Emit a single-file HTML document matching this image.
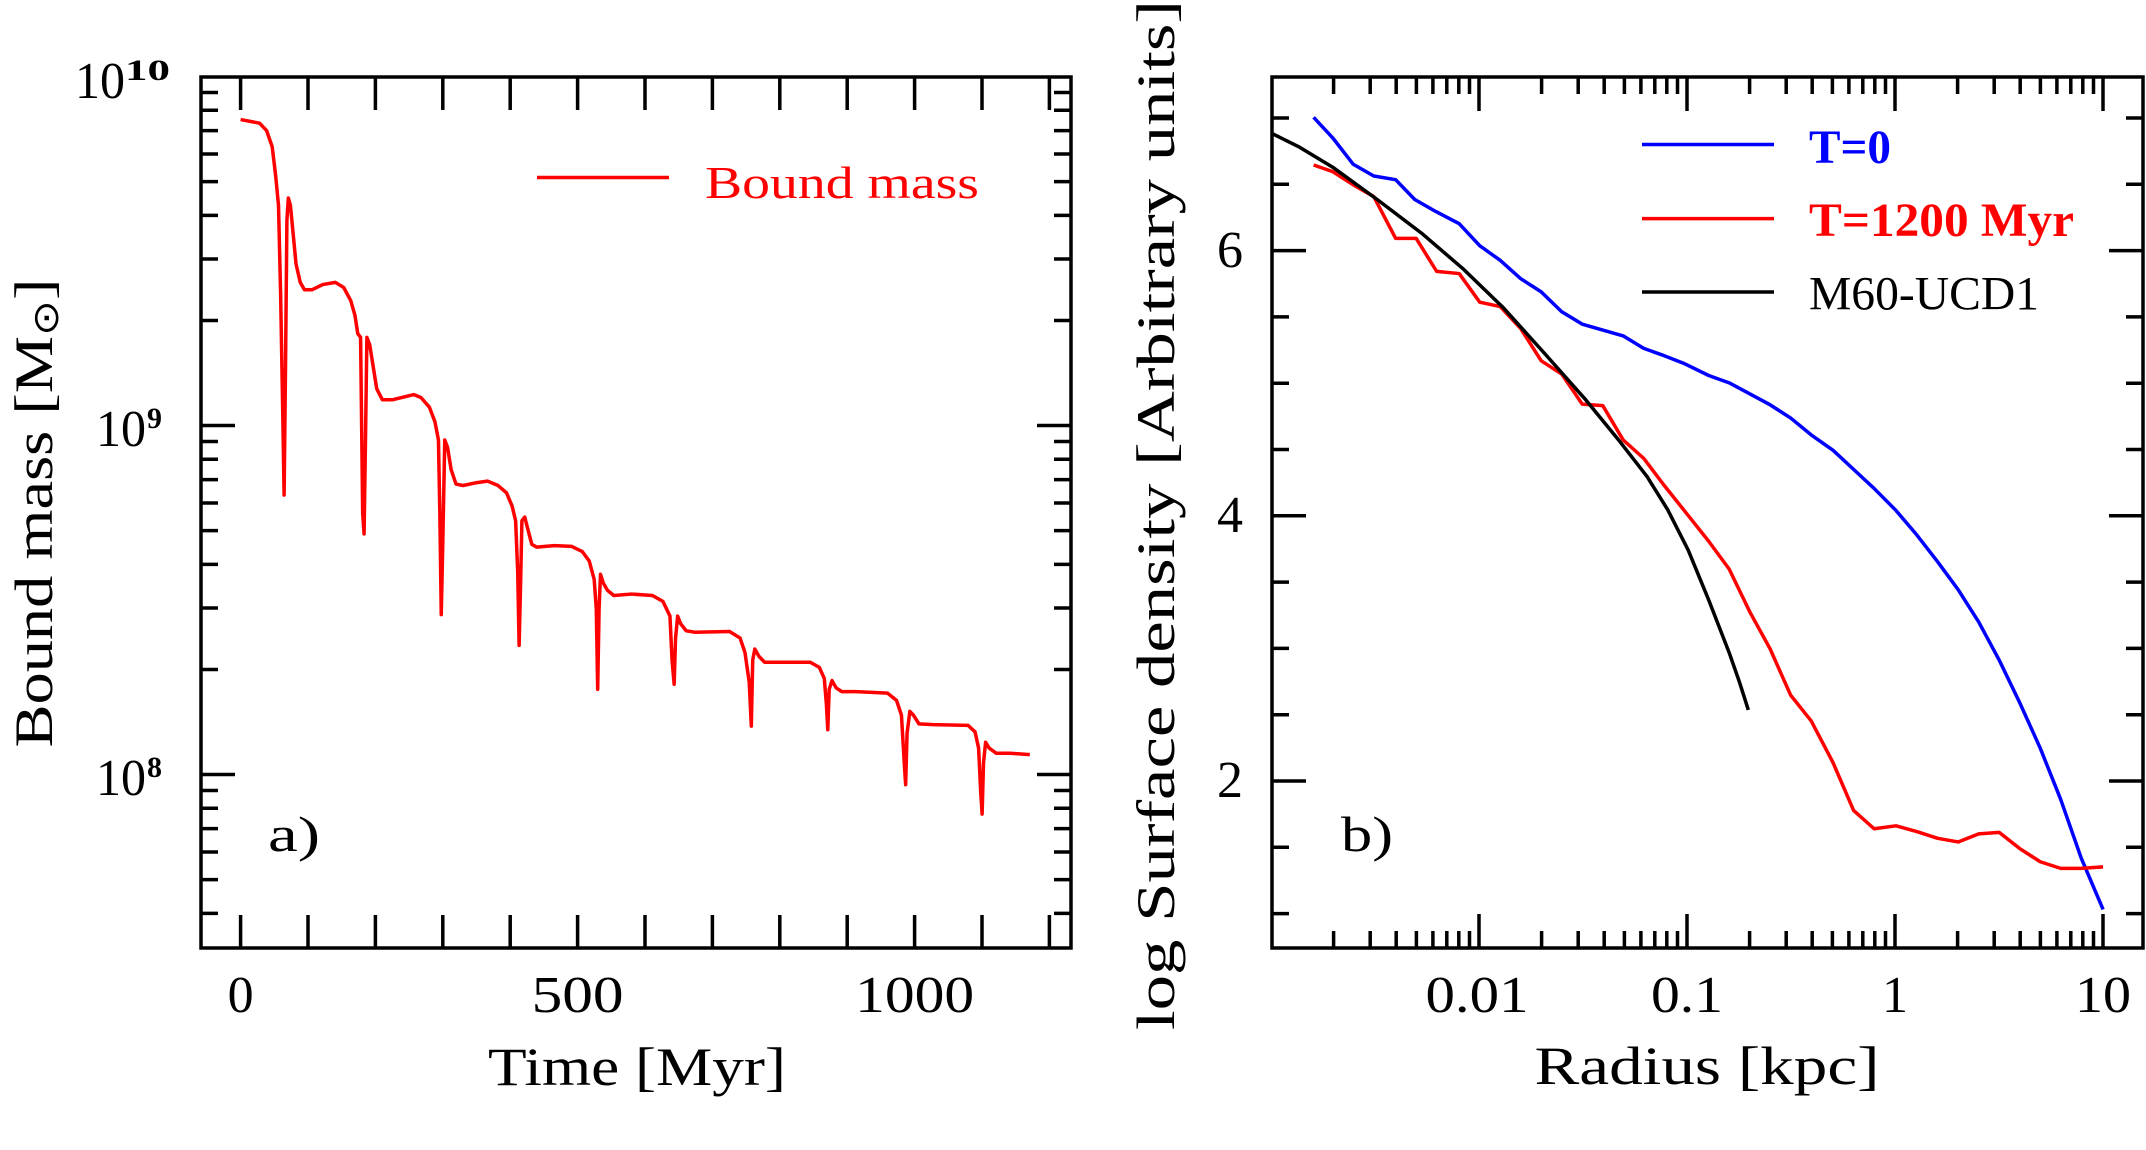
<!DOCTYPE html>
<html><head><meta charset="utf-8"><style>
html,body{margin:0;padding:0;background:#fff;}
svg{display:block;}
text{font-family:"Liberation Serif",serif;fill:#000;}
</style></head><body>
<svg width="2146" height="1150" viewBox="0 0 2146 1150" xmlns="http://www.w3.org/2000/svg">
<!-- LEFT PANEL -->
<rect x="201" y="77" width="870" height="871" fill="none" stroke="#000" stroke-width="3.5"/>
<g stroke="#000" stroke-width="3.5" fill="none">
<path d="M240.6,948v-33M308,948v-33M375.4,948v-33M442.8,948v-33M510.2,948v-33M577.6,948v-33M645,948v-33M712.4,948v-33M779.8,948v-33M847.2,948v-33M914.6,948v-33M982,948v-33M1049.4,948v-33
M240.6,77v33M308,77v33M375.4,77v33M442.8,77v33M510.2,77v33M577.6,77v33M645,77v33M712.4,77v33M779.8,77v33M847.2,77v33M914.6,77v33M982,77v33M1049.4,77v33"/>
<path d="M201,913.4h17M201,879.6h17M201,852h17M201,828.6h17M201,808.3h17M201,790.5h17M201,774.5h34M201,669.5h17M201,608h17M201,564.4h17M201,530.6h17M201,503h17M201,479.6h17M201,459.3h17M201,441.5h17M201,425.5h34M201,320.5h17M201,259h17M201,215.4h17M201,181.6h17M201,154h17M201,130.6h17M201,110.3h17M201,92.5h17
M1071,913.4h-17M1071,879.6h-17M1071,852h-17M1071,828.6h-17M1071,808.3h-17M1071,790.5h-17M1071,774.5h-34M1071,669.5h-17M1071,608h-17M1071,564.4h-17M1071,530.6h-17M1071,503h-17M1071,479.6h-17M1071,459.3h-17M1071,441.5h-17M1071,425.5h-34M1071,320.5h-17M1071,259h-17M1071,215.4h-17M1071,181.6h-17M1071,154h-17M1071,130.6h-17M1071,110.3h-17M1071,92.5h-17"/>
</g>
<g transform="scale(0.70151,0.73341)">
<polyline fill="none" stroke="#f00" stroke-width="3.5" vector-effect="non-scaling-stroke" stroke-linejoin="round" points="343,163 370,168 380,178 388,200 393,240 397,280 400,400 403,560 405,675 407,500 409,300 411,270 414,280 418,320 422,360 428,385 434,395 445,395 460,388 478,385 490,392 500,410 506,430 510,455 514,460 517,700 519,728 521,600 523,460 527,470 532,500 537,530 545,545 560,545 590,538 600,542 612,555 620,575 625,600 627,700 629,838 631,750 634,600 638,610 643,640 650,660 660,662 680,658 695,656 710,662 722,672 730,690 735,710 738,780 740,880 742,800 744,710 748,705 752,720 758,742 765,746 790,744 815,745 830,752 840,765 847,790 850,830 852,940 854,830 856,783 860,795 866,805 875,812 900,810 930,812 945,820 955,840 958,900 961,933 963,870 966,840 970,850 978,860 990,862 1040,861 1055,870 1062,890 1068,930 1071,990 1073,900 1076,885 1082,895 1090,903 1110,903 1155,903 1168,910 1175,925 1178,960 1180,995 1182,940 1186,928 1192,938 1200,943 1220,943 1265,945 1278,955 1285,975 1289,1040 1291,1070 1293,1000 1297,970 1302,975 1310,987 1330,988 1380,989 1390,998 1395,1020 1398,1080 1400,1110 1402,1040 1405,1012 1410,1020 1420,1027 1440,1027 1468,1029"/>
</g>
<line x1="537" y1="177.5" x2="669" y2="177.5" stroke="#f00" stroke-width="3.5"/>
<text x="705" y="198" font-size="46" style="fill:#f00" textLength="274" lengthAdjust="spacingAndGlyphs">Bound mass</text>
<text x="268" y="851" font-size="50" textLength="52" lengthAdjust="spacingAndGlyphs">a)</text>
<!-- y tick labels -->
<text x="75" y="98" font-size="52" textLength="50" lengthAdjust="spacingAndGlyphs">10</text>
<text x="125" y="80" font-size="30" font-weight="bold" textLength="45" lengthAdjust="spacingAndGlyphs">10</text>
<text x="96" y="446" font-size="52" textLength="50" lengthAdjust="spacingAndGlyphs">10</text>
<text x="147" y="428" font-size="30" font-weight="bold">9</text>
<text x="96" y="795" font-size="52" textLength="50" lengthAdjust="spacingAndGlyphs">10</text>
<text x="147" y="777" font-size="30" font-weight="bold">8</text>
<!-- x tick labels -->
<text x="240.6" y="1012" font-size="52" text-anchor="middle">0</text>
<text x="577.6" y="1012" font-size="52" text-anchor="middle" textLength="92" lengthAdjust="spacingAndGlyphs">500</text>
<text x="914.6" y="1012" font-size="52" text-anchor="middle" textLength="119" lengthAdjust="spacingAndGlyphs">1000</text>
<text x="637" y="1085" font-size="54" text-anchor="middle" textLength="298" lengthAdjust="spacingAndGlyphs">Time [Myr]</text>
<text transform="translate(52,513) rotate(-90)" font-size="54" text-anchor="middle" textLength="469" lengthAdjust="spacingAndGlyphs">Bound mass [M<tspan font-size="36" dy="6">⊙</tspan><tspan dy="-6">]</tspan></text>

<!-- RIGHT PANEL -->
<rect x="1272" y="77" width="871" height="871" fill="none" stroke="#000" stroke-width="3.5"/>
<g stroke="#000" stroke-width="3.5" fill="none">
<path d="M1333.6,948v-17M1370.2,948v-17M1396.2,948v-17M1416.4,948v-17M1432.9,948v-17M1446.8,948v-17M1458.8,948v-17M1469.5,948v-17M1479,948v-34
M1541.6,948v-17M1578.2,948v-17M1604.2,948v-17M1624.4,948v-17M1640.9,948v-17M1654.8,948v-17M1666.8,948v-17M1677.5,948v-17M1687,948v-34
M1749.6,948v-17M1786.2,948v-17M1812.2,948v-17M1832.4,948v-17M1848.9,948v-17M1862.8,948v-17M1874.8,948v-17M1885.5,948v-17M1895,948v-34
M1957.6,948v-17M1994.2,948v-17M2020.2,948v-17M2040.4,948v-17M2056.9,948v-17M2070.8,948v-17M2082.8,948v-17M2093.5,948v-17M2103,948v-34
M1333.6,77v17M1370.2,77v17M1396.2,77v17M1416.4,77v17M1432.9,77v17M1446.8,77v17M1458.8,77v17M1469.5,77v17M1479,77v34
M1541.6,77v17M1578.2,77v17M1604.2,77v17M1624.4,77v17M1640.9,77v17M1654.8,77v17M1666.8,77v17M1677.5,77v17M1687,77v34
M1749.6,77v17M1786.2,77v17M1812.2,77v17M1832.4,77v17M1848.9,77v17M1862.8,77v17M1874.8,77v17M1885.5,77v17M1895,77v34
M1957.6,77v17M1994.2,77v17M2020.2,77v17M2040.4,77v17M2056.9,77v17M2070.8,77v17M2082.8,77v17M2093.5,77v17M2103,77v34"/>
<path d="M1272,913.6h17M1272,847.3h17M1272,781h34M1272,714.7h17M1272,648.4h17M1272,582.1h17M1272,515.8h34M1272,449.5h17M1272,383.2h17M1272,316.9h17M1272,250.6h34M1272,184.3h17M1272,118h17
M2143,913.6h-17M2143,847.3h-17M2143,781h-34M2143,714.7h-17M2143,648.4h-17M2143,582.1h-17M2143,515.8h-34M2143,449.5h-17M2143,383.2h-17M2143,316.9h-17M2143,250.6h-34M2143,184.3h-17M2143,118h-17"/>
</g>
<g transform="translate(1073,0) scale(0.68353,0.73341)" fill="none" stroke-width="3.5" stroke-linejoin="round">
<polyline vector-effect="non-scaling-stroke" stroke="#00f" points="352,160 380,188 410,224 440,240 472,245 500,272 530,288 565,305 595,335 625,355 655,380 685,398 715,425 745,442 775,450 805,458 835,475 865,485 895,496 930,512 960,522 990,537 1020,552 1050,570 1080,593 1112,614 1142,640 1172,666 1204,696 1235,730 1265,766 1295,804 1325,848 1355,900 1385,958 1415,1020 1445,1090 1475,1170 1507,1240"/>
<polyline vector-effect="non-scaling-stroke" stroke="#f00" points="352,225 380,234 410,252 440,268 472,325 502,325 532,370 565,373 595,412 625,418 655,448 685,492 715,510 745,551 775,553 805,600 835,625 865,662 895,697 930,738 960,776 990,834 1020,885 1050,948 1080,983 1112,1040 1142,1105 1172,1130 1204,1126 1235,1134 1265,1143 1295,1148 1325,1137 1355,1135 1385,1157 1415,1175 1445,1184 1475,1184 1507,1182"/>
<polyline vector-effect="non-scaling-stroke" stroke="#000" points="291,182 330,200 380,228 445,272 510,318 570,366 630,420 690,482 750,545 800,602 840,650 870,695 900,750 930,818 960,890 975,930 988,968"/>
</g>
<line x1="1642" y1="144.5" x2="1774" y2="144.5" stroke="#00f" stroke-width="3.5"/>
<line x1="1642" y1="218.6" x2="1774" y2="218.6" stroke="#f00" stroke-width="3.5"/>
<line x1="1642" y1="292" x2="1774" y2="292" stroke="#000" stroke-width="3.5"/>
<text x="1809" y="163" font-size="48" font-weight="bold" style="fill:#00f" textLength="82" lengthAdjust="spacingAndGlyphs">T=0</text>
<text x="1809" y="236" font-size="48" font-weight="bold" style="fill:#f00" textLength="265" lengthAdjust="spacingAndGlyphs">T=1200 Myr</text>
<text x="1809" y="309.5" font-size="48" textLength="230" lengthAdjust="spacingAndGlyphs">M60-UCD1</text>
<text x="1341" y="851" font-size="50" textLength="52" lengthAdjust="spacingAndGlyphs">b)</text>
<text x="1243" y="267" font-size="52" text-anchor="end">6</text>
<text x="1243" y="532" font-size="52" text-anchor="end">4</text>
<text x="1243" y="797" font-size="52" text-anchor="end">2</text>
<text x="1477" y="1012" font-size="52" text-anchor="middle" textLength="103" lengthAdjust="spacingAndGlyphs">0.01</text>
<text x="1687" y="1012" font-size="52" text-anchor="middle" textLength="72" lengthAdjust="spacingAndGlyphs">0.1</text>
<text x="1895" y="1012" font-size="52" text-anchor="middle">1</text>
<text x="2103" y="1012" font-size="52" text-anchor="middle" textLength="56" lengthAdjust="spacingAndGlyphs">10</text>
<text x="1707" y="1084" font-size="54" text-anchor="middle" textLength="345" lengthAdjust="spacingAndGlyphs">Radius [kpc]</text>
<text transform="translate(1174,515) rotate(-90)" font-size="54" text-anchor="middle" textLength="1030" lengthAdjust="spacingAndGlyphs">log Surface density [Arbitrary units]</text>
</svg>
</body></html>
